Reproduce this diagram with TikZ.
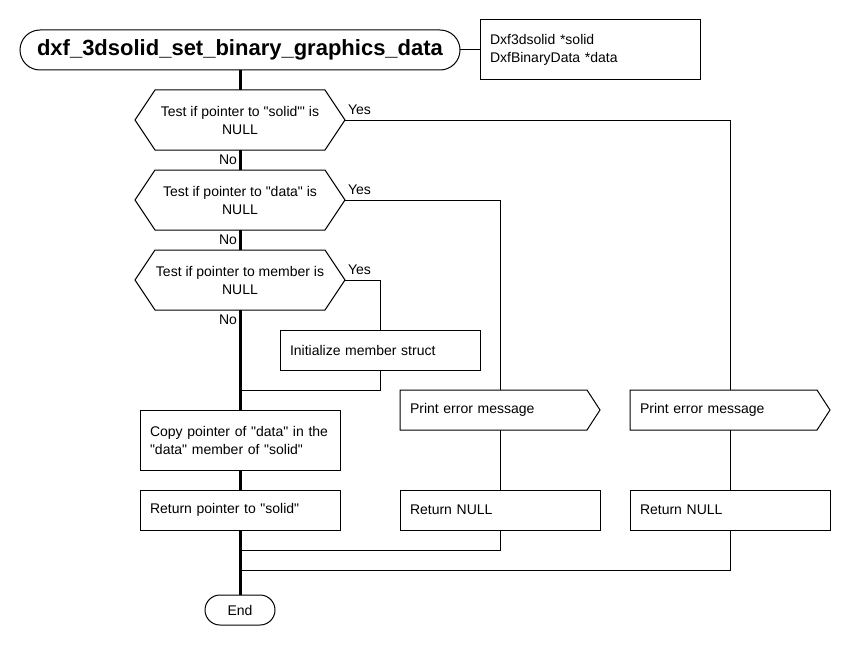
\documentclass[tikz,border=0pt]{standalone}
\usepackage{fontspec}
\setmainfont{Liberation Sans}[Ligatures=TeXOff]
\begin{document}
\begin{tikzpicture}[x=1pt,y=-1pt,
  every node/.style={inner sep=0pt,outer sep=0pt,font=\fontsize{14}{18}\selectfont},
  thin line/.style={line width=1pt,draw=black},
  spine/.style={line width=3pt,draw=black},
  box/.style={draw=black,line width=1pt,minimum width=200pt,minimum height=40pt,text width=180pt,align=left},
  hexnode/.style={minimum width=210pt,minimum height=60pt,align=center},
  signode/.style={minimum width=200pt,minimum height=40pt,text width=180pt,align=left},
  term/.style={draw=black,line width=1pt,rounded corners=15pt,minimum width=70pt,minimum height=30pt},
  lab/.style={font=\fontsize{14}{18}\selectfont}
]
\useasboundingbox[fill=white] (0,0) rectangle (850,650);

% title and parameters
\node[draw=black,line width=1pt,rounded corners=20pt,minimum width=440pt,minimum height=40pt,font=\fontsize{22}{26}\selectfont\bfseries] (title) at (240,50) {dxf\_3dsolid\_set\_binary\_graphics\_data};
\node[box,minimum width=220pt,minimum height=60pt,text width=200pt] (params) at (590,50) {Dxf3dsolid *solid\\DxfBinaryData *data};
\draw[thin line] (title.east) -- (params.west);

% decisions
\node[hexnode] (h1) at (240,120) {Test if pointer to "solid"' is\\NULL};
\node[hexnode] (h2) at (240,200) {Test if pointer to "data" is\\NULL};
\node[hexnode] (h3) at (240,280) {Test if pointer to member is\\NULL};
\foreach \h in {h1,h2,h3}{
  \draw[thin line] (\h.west) -- ([xshift=20pt]\h.north west) -- ([xshift=-20pt]\h.north east) -- (\h.east) -- ([xshift=-20pt]\h.south east) -- ([xshift=20pt]\h.south west) -- cycle;
}

% process boxes
\node[box] (init) at (380,350) {Initialize member struct};
\node[box,minimum height=60pt] (copy) at (240,440) {Copy pointer of "data" in the\\"data" member of "solid"};
\node[box] (ret) at (240,510) {Return pointer to "solid"};
\node[signode] (pe1) at (500,410) {Print error message};
\node[signode] (pe2) at (730,410) {Print error message};
\foreach \p in {pe1,pe2}{
  \draw[thin line] (\p.north west) -- ([xshift=-13pt]\p.north east) -- (\p.east) -- ([xshift=-13pt]\p.south east) -- (\p.south west) -- cycle;
}
\node[box] (rn1) at (500,510) {Return NULL};
\node[box] (rn2) at (730,510) {Return NULL};
\node[term] (end) at (240,610) {End};

% join points on the spine
\coordinate (j0) at (240,390);
\coordinate (j1) at (240,550);
\coordinate (j2) at (240,570);

% spine
\draw[spine] (title.south) -- (h1.north);
\draw[spine] (h1.south) -- (h2.north);
\draw[spine] (h2.south) -- (h3.north);
\draw[spine] (h3.south) -- (copy.north);
\draw[spine] (copy.south) -- (ret.north);
\draw[spine] (ret.south) -- (end.north);

% No labels
\node[lab,anchor=base east] at ([shift={(-3pt,-14pt)}]h1.south) {No};
\node[lab,anchor=base east] at ([shift={(-3pt,-14pt)}]h2.south) {No};
\node[lab,anchor=base east] at ([shift={(-3pt,-14pt)}]h3.south) {No};

% Yes branches
\draw[thin line] (h1.east) -| (pe2.north);
\node[lab,anchor=base west] at ([shift={(3pt,6pt)}]h1.east) {Yes};
\draw[thin line] (pe2.south) -- (rn2.north);
\draw[thin line] (rn2.south) |- (j2);

\draw[thin line] (h2.east) -| (pe1.north);
\node[lab,anchor=base west] at ([shift={(3pt,6pt)}]h2.east) {Yes};
\draw[thin line] (pe1.south) -- (rn1.north);
\draw[thin line] (rn1.south) |- (j1);

\draw[thin line] (h3.east) -| (init.north);
\node[lab,anchor=base west] at ([shift={(3pt,6pt)}]h3.east) {Yes};
\draw[thin line] (init.south) |- (j0);
\end{tikzpicture}
\end{document}
